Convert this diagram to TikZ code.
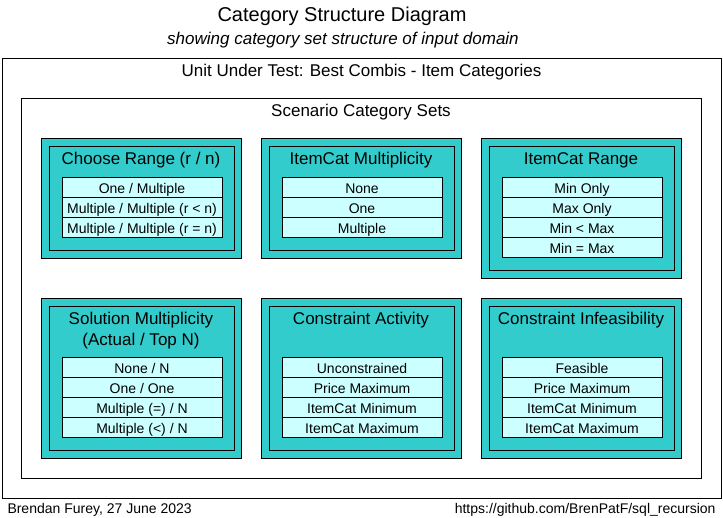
\documentclass[tikz,border=0pt]{standalone}
\usepackage{fontspec}
\setmainfont{Liberation Sans}
\definecolor{catteal}{HTML}{33CCCC}
\definecolor{catcell}{HTML}{CCFFFF}
\tikzset{
  frame/.style={draw=black, fill=white, anchor=north west, inner sep=0pt},
  catouter/.style={draw=black, fill=catteal, anchor=north west, inner sep=0pt, minimum width=200},
  catinner/.style={draw=black, anchor=north west, inner sep=0pt, minimum width=185},
  cattitle/.style={anchor=base, inner sep=0pt, align=center, font=\fontsize{17}{20.5}\selectfont},
  itemcell/.style={draw=black, fill=catcell, inner sep=0pt, minimum width=160, minimum height=20,
    text height=10.2, text depth=0, font=\fontsize{14}{16}\selectfont},
  heading/.style={anchor=base, inner sep=0pt, font=\fontsize{17}{20}\selectfont},
  foot/.style={inner sep=0pt, font=\fontsize{14}{16}\selectfont},
}
% #1 name, #2 x, #3 y, #4 height, #5 table offset, #6 title baseline offset (last line), #7 title, #8 items
\newcommand{\CatBlock}[8]{%
  \node[catouter, minimum height=#4] (#1) at (#2,#3) {};
  \node[catinner, minimum height=#4-16] (#1in) at (#2+8,#3+8) {};
  \node[cattitle] (#1title) at (#2+100,#3+#6) {#7};
  \foreach \itemtext [count=\k from 0] in {#8}{
    \node[itemcell] (#1item\k) at (#2+101,#3+#5+10+20*\k) {\itemtext};
  }%
}
\begin{document}
\begin{tikzpicture}[x=1pt, y=-1pt, line width=1pt]
\useasboundingbox[fill=white] (0,0) rectangle (723,518);
% titles
\node[anchor=base, inner sep=0pt, font=\fontsize{20}{24}\selectfont] (title) at (342,21.8) {Category Structure Diagram};
\node[anchor=base, inner sep=0pt, font=\fontsize{17}{20}\selectfont\itshape] (subtitle) at (343,45) {showing category set structure of input domain};
% frames
\node[frame, minimum width=719, minimum height=440] (uut) at (2,58) {};
\node[heading] (uutlabel) at (361.5,76.7) {Unit Under Test: Best Combis - Item Categories};
\node[frame, minimum width=680, minimum height=380] (scen) at (21,98) {};
\node[heading] (scenlabel) at (361,116.7) {Scenario Category Sets};
% blocks
\CatBlock{choose}{41}{138}{120}{40}{26.7}{Choose Range (r / n)}{One / Multiple, Multiple / Multiple (r < n), Multiple / Multiple (r = n)}
\CatBlock{mult}{261}{138}{120}{40}{26.7}{ItemCat Multiplicity}{None, One, Multiple}
\CatBlock{range}{481}{138}{140}{40}{26.7}{ItemCat Range}{Min Only, Max Only, Min < Max, Min = Max}
\CatBlock{sol}{41}{298}{160}{60}{47.2}{Solution Multiplicity\\(Actual / Top N)}{None / N, One / One, Multiple (=) / N, Multiple (<) / N}
\CatBlock{act}{261}{298}{160}{60}{26.7}{Constraint Activity}{Unconstrained, Price Maximum, ItemCat Minimum, ItemCat Maximum}
\CatBlock{inf}{481}{298}{160}{60}{26.7}{Constraint Infeasibility}{Feasible, Price Maximum, ItemCat Minimum, ItemCat Maximum}
% footer
\node[foot, anchor=base west] (author) at (7,513) {Brendan Furey, 27 June 2023};
\node[foot, anchor=base east] (url) at (716,513) {https://github.com/BrenPatF/sql\_recursion};
\end{tikzpicture}
\end{document}
